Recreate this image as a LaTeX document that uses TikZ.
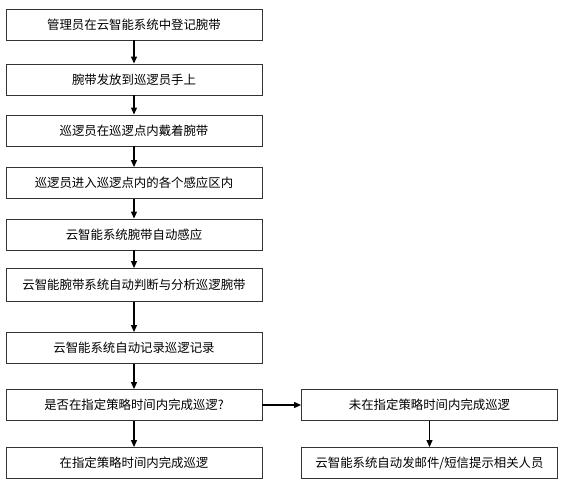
\documentclass[tikz,border=0pt]{standalone}
\usepackage{fontspec}
\setmainfont{Noto Sans CJK SC}
\usetikzlibrary{arrows.meta}
\begin{document}
\begin{tikzpicture}[x=1pt,y=1pt,
  stepbox/.style={draw=black!80,line width=0.9pt,minimum width=256pt,minimum height=31pt,inner sep=0pt,font=\fontsize{12.4}{14}\selectfont},
  flow/.style={line width=1.2pt,-{Triangle[length=7pt,width=6pt]}}]
\useasboundingbox (0,0) rectangle (563,-483);
\node[stepbox] (a) at (134,-24.5) {管理员在云智能系统中登记腕带};
\node[stepbox] (b) at (134,-79.5) {腕带发放到巡逻员手上};
\node[stepbox] (c) at (134,-130.5) {巡逻员在巡逻点内戴着腕带};
\node[stepbox] (d) at (134,-183) {巡逻员进入巡逻点内的各个感应区内};
\node[stepbox] (e) at (134,-234.5) {云智能系统腕带自动感应};
\node[stepbox,minimum height=33pt] (f) at (134,-285) {云智能腕带系统自动判断与分析巡逻腕带};
\node[stepbox] (g) at (134,-348) {云智能系统自动记录巡逻记录};
\node[stepbox] (h) at (134,-405) {是否在指定策略时间内完成巡逻?};
\node[stepbox] (i) at (134,-463) {在指定策略时间内完成巡逻};
\node[stepbox] (j) at (429.5,-405) {未在指定策略时间内完成巡逻};
\node[stepbox] (k) at (429.5,-463) {云智能系统自动发邮件/短信提示相关人员};
\draw[flow] (a) -- (b);
\draw[flow] (b) -- (c);
\draw[flow] (c) -- (d);
\draw[flow] (d) -- (e);
\draw[flow] (e) -- (f);
\draw[flow] (f) -- (g);
\draw[flow] (g) -- (h);
\draw[flow] (h) -- (i);
\draw[flow] (h) -- (j);
\draw[flow] (j) -- (k);
\end{tikzpicture}
\end{document}
